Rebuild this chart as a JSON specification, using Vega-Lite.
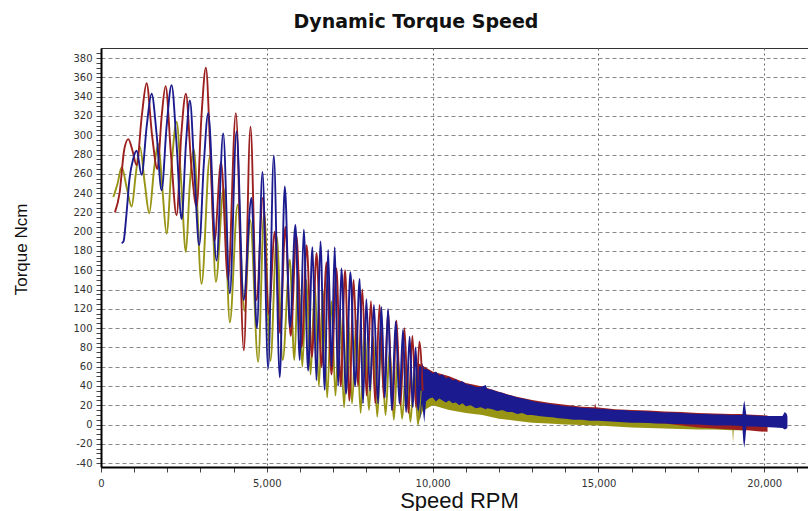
{
  "$schema": "https://vega.github.io/schema/vega-lite/v6.json",
  "autosize": {"type": "none"},
  "width": 708,
  "height": 419,
  "padding": {"left": 101, "top": 48, "right": 0, "bottom": 44},
  "background": "white",
  "config": {
    "view": {"stroke": "#333", "strokeWidth": 1},
    "axis": {
      "labelFont": "DejaVu Sans",
      "labelFontSize": 10,
      "labelColor": "#333",
      "labelOverlap": false,
      "labelFlush": false,
      "tickColor": "#444",
      "tickSize": 5,
      "domainColor": "#000",
      "domainWidth": 2,
      "titleFont": "Liberation Sans",
      "titleFontWeight": "normal",
      "titleColor": "#111"
    }
  },
  "title": {
    "text": "Dynamic Torque Speed",
    "font": "DejaVu Sans",
    "fontSize": 19,
    "fontWeight": "bold",
    "color": "#111",
    "anchor": "middle",
    "frame": "group",
    "dx": -39,
    "dy": 21,
    "offset": 22,
    "baseline": "alphabetic"
  },
  "datasets": {
    "osc": [
      {"series":"red","rpm":420,"torque":220},{"series":"red","rpm":560,"torque":240},{"series":"red","rpm":700,"torque":285},{"series":"red","rpm":823,"torque":296},{"series":"red","rpm":950,"torque":284},{"series":"red","rpm":1074,"torque":269},{"series":"red","rpm":1230,"torque":320},{"series":"red","rpm":1375,"torque":354},{"series":"red","rpm":1540,"torque":300},{"series":"red","rpm":1700,"torque":265},{"series":"red","rpm":1830,"torque":320},{"series":"red","rpm":1948,"torque":351},{"series":"red","rpm":2110,"torque":280},{"series":"red","rpm":2280,"torque":217},{"series":"red","rpm":2420,"torque":300},{"series":"red","rpm":2560,"torque":343},{"series":"red","rpm":2720,"torque":270},{"series":"red","rpm":2882,"torque":226},{"series":"red","rpm":3030,"torque":320},{"series":"red","rpm":3163,"torque":370},{"series":"red","rpm":3300,"torque":280},{"series":"red","rpm":3420,"torque":190},{"series":"red","rpm":3620,"torque":272},{"series":"red","rpm":3830,"torque":150},{"series":"red","rpm":4066,"torque":323},{"series":"red","rpm":4307,"torque":77},{"series":"red","rpm":4507,"torque":309},{"series":"red","rpm":4690,"torque":129},{"series":"red","rpm":4880,"torque":235},{"series":"red","rpm":5060,"torque":115},{"series":"red","rpm":5241,"torque":200},{"series":"red","rpm":5400,"torque":95},{"series":"red","rpm":5560,"torque":205},{"series":"red","rpm":5720,"torque":92},{"series":"red","rpm":5893,"torque":196},{"series":"red","rpm":6050,"torque":80},{"series":"red","rpm":6200,"torque":186},{"series":"red","rpm":6360,"torque":70},{"series":"red","rpm":6500,"torque":178},{"series":"red","rpm":6650,"torque":60},{"series":"red","rpm":6800,"torque":168},{"series":"red","rpm":6950,"torque":52},{"series":"red","rpm":7100,"torque":162},{"series":"red","rpm":7230,"torque":40},{"series":"red","rpm":7360,"torque":160},{"series":"red","rpm":7490,"torque":25},{"series":"red","rpm":7620,"torque":150},{"series":"red","rpm":7750,"torque":40},{"series":"red","rpm":7880,"torque":140},{"series":"red","rpm":8010,"torque":30},{"series":"red","rpm":8140,"torque":128},{"series":"red","rpm":8270,"torque":22},{"series":"red","rpm":8400,"torque":124},{"series":"red","rpm":8530,"torque":28},{"series":"red","rpm":8660,"torque":118},{"series":"red","rpm":8790,"torque":15},{"series":"red","rpm":8910,"torque":108},{"series":"red","rpm":9030,"torque":20},{"series":"red","rpm":9150,"torque":100},{"series":"red","rpm":9270,"torque":12},{"series":"red","rpm":9390,"torque":92},{"series":"red","rpm":9500,"torque":18},{"series":"red","rpm":9600,"torque":86},{"series":"red","rpm":9700,"torque":35},
      {"series":"blue","rpm":623,"torque":188},{"series":"blue","rpm":680,"torque":190},{"series":"blue","rpm":760,"torque":215},{"series":"blue","rpm":860,"torque":255},{"series":"blue","rpm":974,"torque":276},{"series":"blue","rpm":1074,"torque":284},{"series":"blue","rpm":1225,"torque":259},{"series":"blue","rpm":1380,"torque":310},{"series":"blue","rpm":1526,"torque":343},{"series":"blue","rpm":1680,"torque":300},{"series":"blue","rpm":1827,"torque":243},{"series":"blue","rpm":1980,"torque":310},{"series":"blue","rpm":2129,"torque":352},{"series":"blue","rpm":2280,"torque":290},{"series":"blue","rpm":2430,"torque":213},{"series":"blue","rpm":2560,"torque":290},{"series":"blue","rpm":2681,"torque":336},{"series":"blue","rpm":2820,"torque":260},{"series":"blue","rpm":2962,"torque":186},{"series":"blue","rpm":3100,"torque":270},{"series":"blue","rpm":3233,"torque":323},{"series":"blue","rpm":3484,"torque":170},{"series":"blue","rpm":3685,"torque":302},{"series":"blue","rpm":3885,"torque":136},{"series":"blue","rpm":4086,"torque":304},{"series":"blue","rpm":4300,"torque":129},{"series":"blue","rpm":4538,"torque":235},{"series":"blue","rpm":4700,"torque":100},{"series":"blue","rpm":4870,"torque":262},{"series":"blue","rpm":5040,"torque":58},{"series":"blue","rpm":5211,"torque":279},{"series":"blue","rpm":5391,"torque":49},{"series":"blue","rpm":5542,"torque":247},{"series":"blue","rpm":5700,"torque":101},{"series":"blue","rpm":5863,"torque":207},{"series":"blue","rpm":5994,"torque":67},{"series":"blue","rpm":6115,"torque":202},{"series":"blue","rpm":6245,"torque":56},{"series":"blue","rpm":6376,"torque":184},{"series":"blue","rpm":6496,"torque":46},{"series":"blue","rpm":6617,"torque":190},{"series":"blue","rpm":6747,"torque":36},{"series":"blue","rpm":6848,"torque":181},{"series":"blue","rpm":6950,"torque":60},{"series":"blue","rpm":7048,"torque":184},{"series":"blue","rpm":7150,"torque":40},{"series":"blue","rpm":7249,"torque":162},{"series":"blue","rpm":7390,"torque":32},{"series":"blue","rpm":7520,"torque":158},{"series":"blue","rpm":7660,"torque":40},{"series":"blue","rpm":7801,"torque":151},{"series":"blue","rpm":7900,"torque":22},{"series":"blue","rpm":8002,"torque":130},{"series":"blue","rpm":8110,"torque":35},{"series":"blue","rpm":8230,"torque":124},{"series":"blue","rpm":8354,"torque":22},{"series":"blue","rpm":8454,"torque":122},{"series":"blue","rpm":8560,"torque":28},{"series":"blue","rpm":8655,"torque":120},{"series":"blue","rpm":8770,"torque":15},{"series":"blue","rpm":8886,"torque":107},{"series":"blue","rpm":9000,"torque":22},{"series":"blue","rpm":9107,"torque":98},{"series":"blue","rpm":9200,"torque":13},{"series":"blue","rpm":9307,"torque":91},{"series":"blue","rpm":9400,"torque":18},{"series":"blue","rpm":9488,"torque":80},{"series":"blue","rpm":9560,"torque":15},{"series":"blue","rpm":9640,"torque":60},
      {"series":"olive","rpm":372,"torque":236},{"series":"olive","rpm":500,"torque":250},{"series":"olive","rpm":623,"torque":267},{"series":"olive","rpm":780,"torque":245},{"series":"olive","rpm":924,"torque":226},{"series":"olive","rpm":1050,"torque":260},{"series":"olive","rpm":1175,"torque":288},{"series":"olive","rpm":1320,"torque":250},{"series":"olive","rpm":1456,"torque":219},{"series":"olive","rpm":1600,"torque":265},{"series":"olive","rpm":1727,"torque":291},{"series":"olive","rpm":1850,"torque":245},{"series":"olive","rpm":1978,"torque":198},{"series":"olive","rpm":2130,"torque":270},{"series":"olive","rpm":2279,"torque":314},{"series":"olive","rpm":2420,"torque":250},{"series":"olive","rpm":2560,"torque":179},{"series":"olive","rpm":2680,"torque":250},{"series":"olive","rpm":2800,"torque":285},{"series":"olive","rpm":3032,"torque":146},{"series":"olive","rpm":3283,"torque":278},{"series":"olive","rpm":3464,"torque":148},{"series":"olive","rpm":3700,"torque":245},{"series":"olive","rpm":3885,"torque":106},{"series":"olive","rpm":4120,"torque":228},{"series":"olive","rpm":4330,"torque":118},{"series":"olive","rpm":4500,"torque":212},{"series":"olive","rpm":4739,"torque":65},{"series":"olive","rpm":4920,"torque":220},{"series":"olive","rpm":5110,"torque":66},{"series":"olive","rpm":5300,"torque":195},{"series":"olive","rpm":5480,"torque":67},{"series":"olive","rpm":5693,"torque":171},{"series":"olive","rpm":5830,"torque":67},{"series":"olive","rpm":5950,"torque":160},{"series":"olive","rpm":6070,"torque":60},{"series":"olive","rpm":6195,"torque":150},{"series":"olive","rpm":6320,"torque":52},{"series":"olive","rpm":6450,"torque":145},{"series":"olive","rpm":6570,"torque":40},{"series":"olive","rpm":6697,"torque":139},{"series":"olive","rpm":6820,"torque":28},{"series":"olive","rpm":6950,"torque":128},{"series":"olive","rpm":7070,"torque":30},{"series":"olive","rpm":7200,"torque":120},{"series":"olive","rpm":7330,"torque":18},{"series":"olive","rpm":7450,"torque":112},{"series":"olive","rpm":7570,"torque":22},{"series":"olive","rpm":7701,"torque":108},{"series":"olive","rpm":7830,"torque":12},{"series":"olive","rpm":7950,"torque":98},{"series":"olive","rpm":8080,"torque":15},{"series":"olive","rpm":8203,"torque":91},{"series":"olive","rpm":8330,"torque":8},{"series":"olive","rpm":8450,"torque":84},{"series":"olive","rpm":8580,"torque":10},{"series":"olive","rpm":8705,"torque":77},{"series":"olive","rpm":8830,"torque":5},{"series":"olive","rpm":8950,"torque":70},{"series":"olive","rpm":9080,"torque":6},{"series":"olive","rpm":9207,"torque":63},{"series":"olive","rpm":9330,"torque":3},{"series":"olive","rpm":9450,"torque":55},{"series":"olive","rpm":9560,"torque":0},{"series":"olive","rpm":9640,"torque":35}
    ],
    "band": [
      {"series":"blue","rpm":9550,"lo":18,"torque":62},{"series":"blue","rpm":9620,"lo":5,"torque":60},{"series":"blue","rpm":9680,"lo":22,"torque":64},{"series":"blue","rpm":9750,"lo":2,"torque":57},{"series":"blue","rpm":9800,"lo":24,"torque":58},{"series":"blue","rpm":9900,"lo":27,"torque":56},{"series":"blue","rpm":10000,"lo":28,"torque":53},{"series":"blue","rpm":10100,"lo":24,"torque":55},{"series":"blue","rpm":10200,"lo":27,"torque":51},{"series":"blue","rpm":10300,"lo":25,"torque":52},{"series":"blue","rpm":10400,"lo":23,"torque":48},{"series":"blue","rpm":10500,"lo":25,"torque":49},{"series":"blue","rpm":10600,"lo":22,"torque":46},{"series":"blue","rpm":10700,"lo":23,"torque":47},{"series":"blue","rpm":10800,"lo":20,"torque":44},{"series":"blue","rpm":10900,"lo":22,"torque":45},{"series":"blue","rpm":11000,"lo":19,"torque":42},{"series":"blue","rpm":11150,"lo":20,"torque":41},{"series":"blue","rpm":11300,"lo":17,"torque":39},{"series":"blue","rpm":11450,"lo":18,"torque":39},{"series":"blue","rpm":11600,"lo":16,"torque":41},{"series":"blue","rpm":11650,"lo":17,"torque":37},{"series":"blue","rpm":11800,"lo":16,"torque":36},{"series":"blue","rpm":11950,"lo":14,"torque":34},{"series":"blue","rpm":12100,"lo":15,"torque":33},{"series":"blue","rpm":12250,"lo":13,"torque":31},{"series":"blue","rpm":12400,"lo":13,"torque":30},{"series":"blue","rpm":12550,"lo":11,"torque":28},{"series":"blue","rpm":12700,"lo":12,"torque":27},{"series":"blue","rpm":12850,"lo":10,"torque":26},{"series":"blue","rpm":13000,"lo":10,"torque":24.5},{"series":"blue","rpm":13200,"lo":9,"torque":23},{"series":"blue","rpm":13400,"lo":8,"torque":22},{"series":"blue","rpm":13600,"lo":7.5,"torque":21},{"series":"blue","rpm":13800,"lo":6.5,"torque":20},{"series":"blue","rpm":14000,"lo":6,"torque":19},{"series":"blue","rpm":14250,"lo":5,"torque":18.5},{"series":"blue","rpm":14500,"lo":5,"torque":17.5},{"series":"blue","rpm":14750,"lo":4,"torque":17},{"series":"blue","rpm":15000,"lo":4,"torque":16.5},{"series":"blue","rpm":15250,"lo":3.5,"torque":16},{"series":"blue","rpm":15500,"lo":3,"torque":15},{"series":"blue","rpm":15750,"lo":2.5,"torque":15},{"series":"blue","rpm":16000,"lo":2,"torque":14},{"series":"blue","rpm":16250,"lo":2,"torque":14},{"series":"blue","rpm":16500,"lo":1.5,"torque":13.5},{"series":"blue","rpm":16750,"lo":1,"torque":13},{"series":"blue","rpm":17000,"lo":1,"torque":12.5},{"series":"blue","rpm":17250,"lo":0.5,"torque":12.5},{"series":"blue","rpm":17500,"lo":0.5,"torque":12},{"series":"blue","rpm":17750,"lo":0,"torque":11.5},{"series":"blue","rpm":18000,"lo":0,"torque":11},{"series":"blue","rpm":18250,"lo":-0.5,"torque":11},{"series":"blue","rpm":18500,"lo":-1,"torque":10.5},{"series":"blue","rpm":18750,"lo":-1,"torque":10.5},{"series":"blue","rpm":19000,"lo":-1,"torque":10},{"series":"blue","rpm":19340,"lo":-1.5,"torque":10},{"series":"blue","rpm":19370,"lo":-18,"torque":20},{"series":"blue","rpm":19400,"lo":-24,"torque":25},{"series":"blue","rpm":19430,"lo":-15,"torque":18},{"series":"blue","rpm":19460,"lo":-2,"torque":10},{"series":"blue","rpm":19700,"lo":-2,"torque":9.5},{"series":"blue","rpm":20000,"lo":-2.5,"torque":9},{"series":"blue","rpm":20300,"lo":-3,"torque":9},{"series":"blue","rpm":20550,"lo":-3.5,"torque":9},{"series":"blue","rpm":20620,"lo":-5,"torque":13},{"series":"blue","rpm":20680,"lo":-4,"torque":11},{"series":"blue","rpm":20700,"lo":-3,"torque":8},
      {"series":"red","rpm":9550,"lo":25,"torque":64},{"series":"red","rpm":10000,"lo":30,"torque":55},{"series":"red","rpm":10500,"lo":26,"torque":50},{"series":"red","rpm":11000,"lo":22,"torque":43},{"series":"red","rpm":11500,"lo":19,"torque":39.5},{"series":"red","rpm":12000,"lo":16,"torque":34},{"series":"red","rpm":12500,"lo":13,"torque":29},{"series":"red","rpm":13000,"lo":11,"torque":25.5},{"series":"red","rpm":13500,"lo":9,"torque":22.5},{"series":"red","rpm":14000,"lo":7,"torque":20.5},{"series":"red","rpm":14500,"lo":6,"torque":18.5},{"series":"red","rpm":14880,"lo":5,"torque":18},{"series":"red","rpm":14900,"lo":5,"torque":22},{"series":"red","rpm":14930,"lo":5,"torque":18},{"series":"red","rpm":15500,"lo":4,"torque":16},{"series":"red","rpm":16000,"lo":3,"torque":15},{"series":"red","rpm":16500,"lo":2,"torque":14.5},{"series":"red","rpm":17000,"lo":1,"torque":13.5},{"series":"red","rpm":17500,"lo":-1,"torque":13},{"series":"red","rpm":18000,"lo":-3,"torque":12},{"series":"red","rpm":18500,"lo":-4,"torque":11.5},{"series":"red","rpm":19000,"lo":-5,"torque":11},{"series":"red","rpm":19300,"lo":-6,"torque":11},{"series":"red","rpm":19500,"lo":-6,"torque":10.5},{"series":"red","rpm":19800,"lo":-7,"torque":10},{"series":"red","rpm":20100,"lo":-7.5,"torque":9.5},
      {"series":"olive","rpm":9550,"lo":0,"torque":45},{"series":"olive","rpm":9700,"lo":14,"torque":42},{"series":"olive","rpm":10000,"lo":20,"torque":38},{"series":"olive","rpm":10500,"lo":15,"torque":33},{"series":"olive","rpm":11000,"lo":12,"torque":30},{"series":"olive","rpm":11500,"lo":10,"torque":27},{"series":"olive","rpm":12000,"lo":6,"torque":24},{"series":"olive","rpm":12500,"lo":4,"torque":21},{"series":"olive","rpm":13000,"lo":2,"torque":19},{"series":"olive","rpm":13500,"lo":1,"torque":17},{"series":"olive","rpm":14000,"lo":0,"torque":15},{"series":"olive","rpm":14500,"lo":-0.5,"torque":13},{"series":"olive","rpm":15000,"lo":-1,"torque":12},{"series":"olive","rpm":15500,"lo":-2,"torque":11},{"series":"olive","rpm":16000,"lo":-3,"torque":10},{"series":"olive","rpm":16500,"lo":-3.5,"torque":9},{"series":"olive","rpm":17000,"lo":-4,"torque":8},{"series":"olive","rpm":17500,"lo":-4.5,"torque":8},{"series":"olive","rpm":18000,"lo":-5,"torque":7},{"series":"olive","rpm":18500,"lo":-5,"torque":7},{"series":"olive","rpm":19000,"lo":-6,"torque":6},{"series":"olive","rpm":19040,"lo":-6,"torque":6},{"series":"olive","rpm":19060,"lo":-19,"torque":6},{"series":"olive","rpm":19080,"lo":-6,"torque":6},{"series":"olive","rpm":19400,"lo":-6,"torque":6}
    ]
  },
  "encoding": {
    "x": {
      "field": "rpm",
      "type": "quantitative",
      "scale": {"domain": [0, 21350], "nice": false, "zero": false},
      "axis": {
        "title": "Speed RPM",
        "values": [0,1000,2000,3000,4000,5000,6000,7000,8000,9000,10000,11000,12000,13000,14000,15000,16000,17000,18000,19000,20000,21000],
        "labelExpr": "datum.value % 5000 === 0 ? format(datum.value, ',') : ''",
        "grid": true,
        "gridColor": "#666",
        "gridDash": [2, 3],
        "gridOpacity": {"condition": {"test": "datum.value % 5000 === 0", "value": 1}, "value": 0},
        "labelPadding": 6,
        "titleFontSize": 22,
        "titleX": 358,
        "titleY": 40,
        "titleAlign": "center",
        "titleBaseline": "alphabetic"
      }
    },
    "y": {
      "field": "torque",
      "type": "quantitative",
      "scale": {"domain": [-44, 390.5], "nice": false, "zero": false},
      "axis": {
        "title": "Torque Ncm",
        "values": [-40,-35,-30,-25,-20,-15,-10,-5,0,5,10,15,20,25,30,35,40,45,50,55,60,65,70,75,80,85,90,95,100,105,110,115,120,125,130,135,140,145,150,155,160,165,170,175,180,185,190,195,200,205,210,215,220,225,230,235,240,245,250,255,260,265,270,275,280,285,290,295,300,305,310,315,320,325,330,335,340,345,350,355,360,365,370,375,380,385],
        "labelExpr": "datum.value % 20 === 0 ? datum.value : ''",
        "grid": true,
        "gridColor": "#888",
        "gridDash": [4, 3],
        "gridOpacity": {"condition": {"test": "datum.value % 20 === 0", "value": 1}, "value": 0},
        "labelPadding": 4,
        "titleFontSize": 17,
        "titleAngle": -90,
        "titleX": -75,
        "titleY": 201,
        "titleAlign": "center",
        "titleBaseline": "alphabetic"
      }
    }
  },
  "layer": [
    {"data": {"name": "band"}, "transform": [{"filter": "datum.series === 'olive'"}], "mark": {"type": "area", "color": "#989414", "clip": true}, "encoding": {"y2": {"field": "lo"}}},
    {"data": {"name": "band"}, "transform": [{"filter": "datum.series === 'red'"}], "mark": {"type": "area", "color": "#9C1F1F", "clip": true}, "encoding": {"y2": {"field": "lo"}}},
    {"data": {"name": "band"}, "transform": [{"filter": "datum.series === 'blue'"}], "mark": {"type": "area", "color": "#1B1B8F", "clip": true}, "encoding": {"y2": {"field": "lo"}}},
    {"data": {"name": "osc"}, "transform": [{"filter": "datum.series === 'olive'"}], "mark": {"type": "line", "color": "#989414", "strokeWidth": 1.9, "interpolate": "monotone", "clip": true}, "encoding": {}},
    {"data": {"name": "osc"}, "transform": [{"filter": "datum.series === 'red'"}], "mark": {"type": "line", "color": "#9C1F1F", "strokeWidth": 1.9, "interpolate": "monotone", "clip": true}, "encoding": {}},
    {"data": {"name": "osc"}, "transform": [{"filter": "datum.series === 'blue'"}], "mark": {"type": "line", "color": "#1B1B8F", "strokeWidth": 1.9, "interpolate": "monotone", "clip": true}, "encoding": {}}
  ]
}
